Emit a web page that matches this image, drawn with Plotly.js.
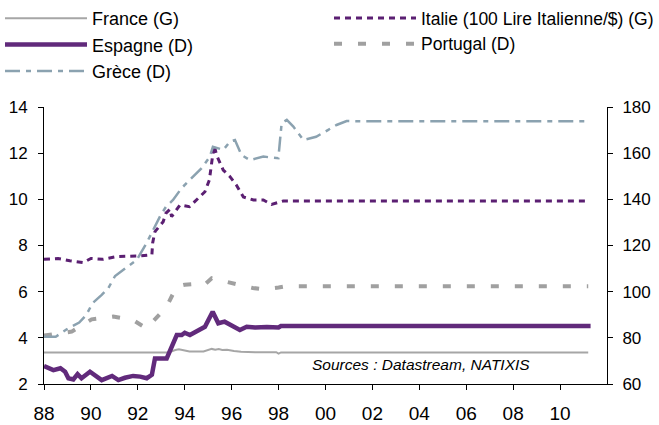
<!DOCTYPE html>
<html>
<head>
<meta charset="utf-8">
<script src="https://cdn.plot.ly/plotly-3.0.1.min.js"></script>
<style>html,body{margin:0;padding:0;background:#fff}#chart{width:659px;height:425px}</style>
</head>
<body>
<div id="chart"></div>
<script>
// France (G) - left axis
const franceYears = [1988.0, 1989.0, 1990.0, 1991.0, 1992.0, 1993.3, 1993.6, 1993.75, 1993.9, 1994.2, 1994.8, 1995.0, 1995.15, 1995.3, 1995.45, 1995.6, 1995.8, 1996.1, 1996.4, 1997.0, 1997.9, 1998.0, 1998.1, 1999.0, 2011.2];
const franceVals  = [3.37, 3.37, 3.37, 3.37, 3.37, 3.37, 3.47, 3.50, 3.47, 3.41, 3.41, 3.46, 3.52, 3.48, 3.51, 3.47, 3.48, 3.43, 3.40, 3.38, 3.38, 3.32, 3.37, 3.36, 3.36];

// Italie (100 Lire Italienne) (G) - left axis
const italieYears = [1988.0, 1988.6, 1989.1, 1989.67, 1990.0, 1990.5, 1991.1, 1991.6, 1992.1, 1992.6, 1992.63, 1992.73, 1993.08, 1993.2, 1993.37, 1993.44, 1993.8, 1994.2, 1994.5, 1994.86, 1995.05, 1995.15, 1995.25, 1995.36, 1995.64, 1995.93, 1996.2, 1996.5, 1996.93, 1997.35, 1997.7, 1998.2, 2011.1];
const italieVals  = [7.40, 7.44, 7.34, 7.26, 7.44, 7.40, 7.52, 7.52, 7.55, 7.60, 8.10, 8.60, 9.03, 9.40, 9.57, 9.25, 9.76, 9.68, 9.97, 10.33, 10.84, 11.70, 12.36, 11.90, 11.27, 10.98, 10.62, 10.10, 9.97, 9.97, 9.78, 9.93, 9.93];

// Espagne (D) - right axis
const espagneYears = [1988.0, 1988.2, 1988.4, 1988.7, 1988.9, 1989.04, 1989.25, 1989.43, 1989.6, 1989.96, 1990.2, 1990.46, 1990.9, 1991.17, 1991.45, 1991.8, 1992.1, 1992.38, 1992.6, 1992.73, 1993.23, 1993.44, 1993.66, 1993.87, 1994.0, 1994.22, 1994.5, 1994.86, 1995.19, 1995.43, 1995.7, 1996.07, 1996.35, 1996.64, 1997.0, 1997.5, 1998.0, 1998.1, 2011.3];
const espagneVals  = [67.8, 66.8, 66.0, 66.8, 65.3, 62.5, 62.0, 64.3, 62.5, 65.3, 63.5, 61.7, 63.5, 61.7, 62.7, 63.5, 63.2, 62.5, 64.0, 71.1, 71.1, 76.2, 81.2, 81.2, 82.2, 81.2, 82.7, 84.8, 91.3, 86.3, 87.0, 84.8, 83.4, 84.8, 84.5, 84.7, 84.5, 85.1, 85.1];

// Portugal (D) - right axis
const portugalYears = [1988.0, 1988.18, 1989.18, 1990.03, 1990.95, 1991.8, 1992.37, 1993.23, 1993.65, 1994.0, 1994.36, 1994.8, 1995.15, 1995.43, 1995.9, 1996.35, 1996.9, 1997.35, 1998.0, 1998.35, 2011.2];
const portugalVals  = [81.0, 81.2, 82.7, 88.0, 89.2, 87.7, 84.1, 93.5, 102.2, 103.0, 103.3, 102.6, 105.8, 105.1, 103.8, 102.9, 101.6, 101.0, 101.8, 102.4, 102.4];

// Grèce (D) - right axis
const greceYears = [1988.0, 1988.5, 1988.97, 1989.5, 1989.8, 1990.07, 1990.46, 1990.74, 1991.03, 1991.52, 1991.95, 1992.37, 1992.66, 1992.94, 1993.2, 1993.5, 1993.86, 1994.28, 1994.72, 1995.07, 1995.2, 1995.64, 1995.93, 1996.14, 1996.42, 1996.78, 1997.35, 1997.99, 1998.13, 1998.35, 1998.63, 1999.06, 1999.4, 1999.6, 2000.1, 2000.47, 2000.9, 2001.5, 2011.1];
const greceVals  = [80.5, 80.5, 83.7, 86.6, 89.9, 95.0, 98.6, 101.5, 106.8, 110.5, 113.7, 121.0, 126.7, 132.5, 136.8, 139.7, 144.8, 149.1, 153.5, 158.5, 162.8, 161.4, 165.0, 165.7, 159.2, 157.0, 158.5, 157.8, 173.0, 174.4, 171.5, 165.7, 166.4, 167.1, 170.0, 172.2, 173.9, 173.8, 173.8];

// Axis ticks
const xTickVals = [1988, 1990, 1992, 1994, 1996, 1998, 2000, 2002, 2004, 2006, 2008, 2010];
const xTickText = ['88', '90', '92', '94', '96', '98', '00', '02', '04', '06', '08', '10'];
const leftTicks = [2, 4, 6, 8, 10, 12, 14];
const rightTicks = [60, 80, 100, 120, 140, 160, 180];

const FONT = 'Liberation Sans, Arial, sans-serif';

const traces = [
  {name: 'France (G)', x: franceYears, y: franceVals, yaxis: 'y', mode: 'lines', legend: 'legend',
   line: {color: '#a6a6a6', width: 2}},
  {name: 'Italie (100 Lire Italienne/$) (G)', x: italieYears, y: italieVals, yaxis: 'y', mode: 'lines', legend: 'legend2',
   line: {color: '#5b1f72', width: 3, dash: '6px,5px'}},
  {name: 'Espagne (D)', x: espagneYears, y: espagneVals, yaxis: 'y2', mode: 'lines', legend: 'legend',
   line: {color: '#612a7b', width: 4.5}},
  {name: 'Portugal (D)', x: portugalYears, y: portugalVals, yaxis: 'y2', mode: 'lines', legend: 'legend2',
   line: {color: '#a0a0a0', width: 4, dash: '8px,16px'}},
  {name: 'Grèce (D)', x: greceYears, y: greceVals, yaxis: 'y2', mode: 'lines', legend: 'legend',
   line: {color: '#8ba2b0', width: 2.5, dash: '15px,6px,5px,6px'}}
];

const legendBase = {
  orientation: 'v', xref: 'paper', yref: 'container',
  y: 1.02, xanchor: 'left', yanchor: 'top',
  font: {family: FONT, size: 18, color: '#000'},
  itemwidth: 82, bgcolor: 'rgba(0,0,0,0)', traceorder: 'normal', borderwidth: 0
};

const layout = {
  width: 659, height: 425,
  margin: {l: 44, r: 52, t: 107, b: 41, pad: 0},
  paper_bgcolor: '#ffffff', plot_bgcolor: '#ffffff',
  font: {family: FONT, color: '#000000', size: 16},
  showlegend: true,
  legend: Object.assign({}, legendBase, {x: -44 / 563}),
  legend2: Object.assign({}, legendBase, {x: 295 / 563, font: {family: FONT, size: 17.5, color: '#000'}}),
  xaxis: {
    range: [1988, 2012], showgrid: false, zeroline: false,
    showline: true, linecolor: '#000', linewidth: 1,
    ticks: 'outside', ticklen: 5, tickcolor: '#000',
    tickvals: xTickVals, ticktext: xTickText,
    tickfont: {family: FONT, size: 19, color: '#000'}, ticklabelstandoff: 7
  },
  yaxis: {
    range: [2, 14], showgrid: false, zeroline: false,
    showline: true, linecolor: '#000', linewidth: 1,
    ticks: 'outside', ticklen: 5, tickcolor: '#000',
    tickvals: leftTicks,
    tickfont: {family: FONT, size: 17, color: '#000'}, ticklabelstandoff: 7
  },
  yaxis2: {
    range: [60, 180], overlaying: 'y', side: 'right', showgrid: false, zeroline: false,
    showline: true, linecolor: '#000', linewidth: 1,
    ticks: 'outside', ticklen: 5, tickcolor: '#000',
    tickvals: rightTicks,
    tickfont: {family: FONT, size: 17, color: '#000'}, ticklabelstandoff: 6
  },
  annotations: [{
    text: 'Sources : Datastream, NATIXIS', xref: 'paper', yref: 'paper',
    x: 0.4725, y: 0.0686, xanchor: 'left', yanchor: 'middle', showarrow: false,
    font: {family: FONT, size: 15.5, color: '#000', style: 'italic'}
  }]
};

Plotly.newPlot('chart', traces, layout, {displayModeBar: false, staticPlot: true});
</script>
</body>
</html>
